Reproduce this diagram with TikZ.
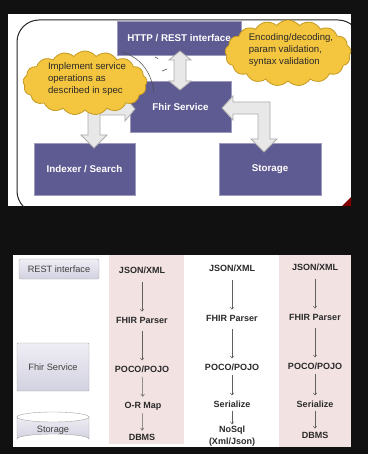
\documentclass[tikz,border=0pt]{standalone}
\usepackage{fontspec}
\setmainfont{Liberation Sans}
\usetikzlibrary{shapes.symbols,arrows.meta}
\definecolor{bgdark}{HTML}{111111}
\definecolor{boxpurple}{HTML}{5E5A92}
\definecolor{cloudfill}{HTML}{F4C53F}
\definecolor{cloudline}{HTML}{C49A22}
\definecolor{bandpink}{HTML}{F3E2E2}
\definecolor{txtdark}{HTML}{2A2A2A}
\definecolor{lavtop}{HTML}{EFEEF5}
\definecolor{lavbot}{HTML}{D2D1E0}
\tikzset{
  pbox/.style={fill=boxpurple, draw=boxpurple!60!white, line width=0.6pt, text=white,
    font=\bfseries\fontsize{9.8}{11}\selectfont, inner sep=0pt},
  barrow/.style={fill=gray!18, draw=gray!65, line width=0.8pt, line join=miter},
  cloudbox/.style={cloud, cloud puffs=17, cloud puff arc=105, fill=cloudfill, draw=cloudline,
    line width=0.8pt, inner sep=0pt},
  cloudtxt/.style={align=left, text=txtdark, font=\fontsize{9.6}{12}\selectfont, inner sep=0pt},
  lbox/.style={top color=lavtop, bottom color=lavbot, draw=gray!70, rounded corners=2pt,
    text=txtdark!90, font=\fontsize{9.2}{10}\selectfont, inner sep=0pt},
  ctext/.style={text=txtdark, font=\bfseries\fontsize{9}{10}\selectfont, inner sep=1pt, align=center},
  flow/.style={draw=gray!75!black, line width=0.5pt, -{Straight Barb[length=2.2pt,width=3.5pt]},
    shorten <=7pt, shorten >=4pt},
}
\begin{document}
\begin{tikzpicture}[x=1pt,y=-1pt]
\fill[bgdark] (0,0) rectangle (368,454);
\useasboundingbox (0,0) rectangle (368,454);

% ---------- top panel ----------
\fill[white] (8,14) rectangle (351,206);
\begin{scope}
  \clip (8,14) rectangle (351,206);
  \draw[black!85, line width=1pt, rounded corners=22pt] (17,20) rectangle (360,213);
\end{scope}
\fill[red!50!black] (342,206) -- (351,197) -- (351,206) -- cycle;

\node[pbox, minimum width=124pt, minimum height=34pt] (http) at (179,38) {HTTP / REST interface};
\node[pbox, minimum width=101pt, minimum height=51pt] (fhir) at (180.5,106.5) {Fhir Service};
\node[pbox, minimum width=101pt, minimum height=52pt] (idx) at (84.5,169) {Indexer / Search};
\node[pbox, minimum width=102pt, minimum height=52pt] (sto) at (270,169) {Storage};

% block arrows
\filldraw[barrow] (180,51) -- (191,60) -- (186,60) -- (186,81) -- (191,81) -- (180,90)
  -- (169,81) -- (174,81) -- (174,60) -- (169,60) -- cycle;
\filldraw[barrow] (135,109) -- (125,97) -- (125,103) -- (88,103) -- (88,135) -- (81,135)
  -- (94,148) -- (107,135) -- (100,135) -- (100,115) -- (125,115) -- (125,121) -- cycle;
\filldraw[barrow] (222,108) -- (233,96) -- (233,102) -- (270,102) -- (270,139) -- (277,139)
  -- (264,152) -- (251,139) -- (258,139) -- (258,114) -- (233,114) -- (233,120) -- cycle;

% callout line and small strokes
\coordinate (cl1) at (122,52);
\coordinate (cl2) at (154,93);
\draw[black!70, line width=0.5pt] (cl1) .. controls (142,58) and (152,74) .. (cl2);
\draw[black!70, line width=0.6pt] (155,57) -- (158,58.5);
\draw[black!70, line width=0.6pt] (162,71) -- (167,69);

% clouds
\node[cloudbox, minimum width=124pt, minimum height=64pt] (cloudL) at (85,83) {};
\node[cloudtxt] (cloudLt) at (87,79) {Implement service\\operations as\\described in spec};
\node[cloudbox, minimum width=126pt, minimum height=66pt] (cloudR) at (288,53) {};
\node[cloudtxt] (cloudRt) at (291,50) {Encoding/decoding,\\param validation,\\syntax validation};

% ---------- bottom panel ----------
\fill[white] (13,255) rectangle (351,447);
\fill[bandpink] (109,255) rectangle (184,444);
\fill[bandpink] (279,255) rectangle (351,447);

\node[lbox, minimum width=80pt, minimum height=20pt] (rest) at (59,269) {REST interface};
\node[lbox, rounded corners=1pt, minimum width=72pt, minimum height=48pt] (fsvc) at (53,367) {Fhir Service};
% storage cylinder
\shade[top color=lavtop, bottom color=lavbot, draw=gray!70]
  (17,417) -- (17,439) arc[start angle=180, end angle=360, x radius=36, y radius=5]
  -- (89,417) arc[start angle=0, end angle=180, x radius=36, y radius=5] -- cycle;
\draw[gray!70] (17,417) arc[start angle=180, end angle=360, x radius=36, y radius=5];
\node[text=txtdark!90, font=\fontsize{9.2}{10}\selectfont, inner sep=0pt] (stor) at (53,430) {Storage};

% column 1
\node[ctext] (a1) at (142,270) {JSON/XML};
\node[ctext] (a2) at (142,320) {FHIR Parser};
\node[ctext] (a3) at (142,369) {POCO/POJO};
\node[ctext] (a4) at (143,406) {O-R Map};
\node[ctext] (a5) at (142,437) {DBMS};
% column 2
\node[ctext] (b1) at (232,268) {JSON/XML};
\node[ctext] (b2) at (232,318) {FHIR Parser};
\node[ctext] (b3) at (232,367) {POCO/POJO};
\node[ctext] (b4) at (232,404) {Serialize};
\node[ctext, font=\bfseries\fontsize{9}{11.5}\selectfont] (b5) at (232,436) {NoSql\\(Xml/Json)};
% column 3
\node[ctext] (c1) at (315,267) {JSON/XML};
\node[ctext] (c2) at (315,317) {FHIR Parser};
\node[ctext] (c3) at (315,366) {POCO/POJO};
\node[ctext] (c4) at (315,404) {Serialize};
\node[ctext] (c5) at (315,435) {DBMS};

\draw[flow] (a1) -- (a2);
\draw[flow] (a2) -- (a3);
\draw[flow, shorten <=3pt] (a3) -- (a4);
\draw[flow, shorten <=2pt, shorten >=2pt] (a4) -- (a5);
\draw[flow] (b1) -- (b2);
\draw[flow] (b2) -- (b3);
\draw[flow, shorten <=3pt] (b3) -- (b4);
\draw[flow, shorten <=2pt, shorten >=0.5pt] (b4) -- (b5);
\draw[flow] (c1) -- (c2);
\draw[flow] (c2) -- (c3);
\draw[flow, shorten <=3pt] (c3) -- (c4);
\draw[flow, shorten <=2pt, shorten >=2pt] (c4) -- (c5);
\end{tikzpicture}
\end{document}
